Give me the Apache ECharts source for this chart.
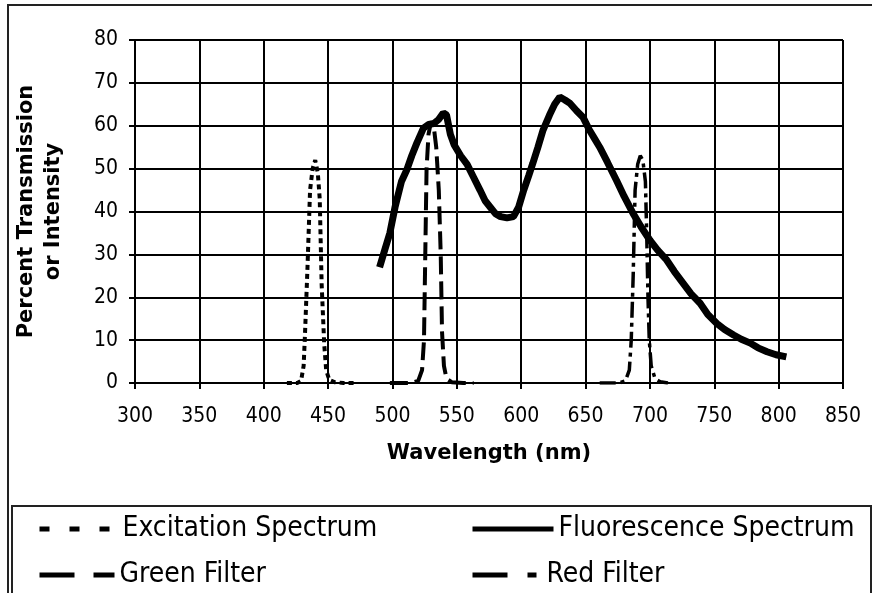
<!DOCTYPE html>
<html>
<head>
<meta charset="utf-8">
<script src="https://cdn.jsdelivr.net/npm/echarts@6/dist/echarts.min.js"></script>
<style>
  * { margin: 0; padding: 0; }
  body { background: #fff; }
  #chart { width: 872px; height: 593px; }
</style>
</head>
<body>
<!-- chart container -->
<div id="chart"></div>
<script>
  // x: wavelength (nm), y: percent transmission or intensity
  const excitation = [
    [418, 0], [426, 0], [429, 0.5], [431, 4], [432, 11], [434, 27], [436, 45], [438, 50],
    [440, 52], [442, 49], [443.5, 43], [445, 23], [447, 9], [448.5, 3], [451, 0.7],
    [455, 0.2], [462, 0], [472, 0]
  ];
  const fluorescence = [
    [490, 27], [494, 31], [498, 35], [502, 41], [507, 47], [511, 49.6], [515, 53],
    [519, 56], [524, 59.4], [528, 60.3], [532, 60.5], [536, 61.5], [539.5, 63],
    [542, 62.5], [545, 58], [548, 55.5], [553, 53], [558, 51], [563, 48], [568, 45],
    [572, 42.5], [576, 41], [580, 39.5], [584, 38.8], [589, 38.5], [594, 38.8],
    [598, 41], [602, 45], [606, 48.5], [609, 51.2], [613, 55], [617, 59], [622, 62.5],
    [626, 65], [630, 66.7], [634, 66], [638, 65.2], [643, 63.5], [648, 62], [653, 59],
    [657, 57], [661, 55], [667, 51.5], [674, 47.3], [680, 43.5], [687, 39.5], [693, 36.5],
    [700, 33.3], [706, 31], [713, 28.7], [719, 26], [726, 23.2], [732, 20.8], [739, 18.6],
    [745, 16], [752, 13.9], [758, 12.5], [765, 11.2], [771, 10.2], [778, 9.3], [784, 8.2],
    [791, 7.3], [798, 6.6], [806, 6.1]
  ];
  const greenFilter = [
    [498, 0], [515, 0], [520, 0.5], [523, 3], [524.5, 10], [525.5, 30], [526.5, 50],
    [528, 58], [530, 61], [532, 60], [534, 55], [536, 45], [537.5, 30], [538.5, 12],
    [540, 4], [542, 1], [546, 0.2], [555, 0], [563, 0]
  ];
  const redFilter = [
    [661, 0], [676, 0], [681, 0.5], [684, 3], [685.5, 10], [687, 25], [688.5, 45],
    [690.5, 51], [692.5, 53], [694.5, 52], [696.5, 47], [697.5, 35], [698.5, 20],
    [699.5, 10], [701, 4], [704, 1], [708, 0.3], [714, 0]
  ];
  const seriesNames = ['Excitation Spectrum', 'Fluorescence Spectrum', 'Green Filter', 'Red Filter'];

  const font = 'DejaVu Sans, Verdana, sans-serif';
  const condensed = 'DejaVu Sans Condensed, DejaVu Sans, sans-serif';
  const chart = echarts.init(document.getElementById('chart'));

  function makeLine(name, data, width, dash) {
    return {
      name: name,
      type: 'line',
      data: data,
      symbol: 'none',
      showSymbol: false,
      lineStyle: { color: '#000', width: width, type: dash, cap: 'butt' },
      itemStyle: { color: '#000' }
    };
  }

  // one legend per entry, so the 2x2 grid of the original is kept
  function makeLegend(name, left, top, w, dash) {
    return {
      data: [name],
      left: left, top: top, padding: 0,
      itemWidth: w, itemHeight: 14,
      itemStyle: { opacity: 0 },
      lineStyle: { color: '#000', width: 5, type: dash, cap: 'butt' },
      textStyle: { fontFamily: condensed, fontSize: 28, color: '#000', lineHeight: 32 }
    };
  }

  chart.setOption({
    animation: false,
    backgroundColor: '#fff',
    textStyle: { fontFamily: font },
    grid: { left: 135, right: 29, top: 40, bottom: 210 },
    graphic: [
      { type: 'rect', z: -10, shape: { x: 8, y: 5, width: 900, height: 700 },
        style: { fill: 'none', stroke: '#222', lineWidth: 2 } },
      { type: 'rect', z: -10, shape: { x: 12, y: 506, width: 859, height: 200 },
        style: { fill: '#fff', stroke: '#222', lineWidth: 2 } }
    ],
    legend: [
      makeLegend(seriesNames[0], 37, 513, 78, [10, 20]),
      makeLegend(seriesNames[2], 37, 559, 75, [35, 19]),
      makeLegend(seriesNames[1], 470, 513, 81, 'solid'),
      makeLegend(seriesNames[3], 470, 559, 69, [35, 20, 9, 99])
    ],
    xAxis: {
      type: 'value', min: 300, max: 850, interval: 50,
      name: 'Wavelength (nm)', nameLocation: 'middle', nameGap: 60,
      nameTextStyle: { fontFamily: font, fontSize: 21, fontWeight: 'bold', color: '#000' },
      axisLine: { lineStyle: { color: '#000', width: 2 } },
      axisTick: { show: true, length: 6, lineStyle: { color: '#000', width: 2 } },
      axisLabel: { fontFamily: condensed, fontSize: 21, color: '#000', margin: 23 },
      splitLine: { show: true, lineStyle: { color: '#000', width: 2 } }
    },
    yAxis: {
      type: 'value', min: 0, max: 80, interval: 10,
      name: 'Percent Transmission\nor Intensity', nameLocation: 'middle', nameGap: 68,
      nameTextStyle: { fontFamily: font, fontSize: 21, fontWeight: 'bold', color: '#000', lineHeight: 27 },
      axisLine: { show: true, lineStyle: { color: '#000', width: 2 } },
      axisTick: { show: true, length: 6, lineStyle: { color: '#000', width: 2 } },
      axisLabel: { fontFamily: condensed, fontSize: 21, color: '#000', margin: 17 },
      splitLine: { show: true, lineStyle: { color: '#000', width: 2 } }
    },
    series: [
      makeLine(seriesNames[0], excitation, 4, [5, 4]),
      makeLine(seriesNames[1], fluorescence, 7, 'solid'),
      makeLine(seriesNames[2], greenFilter, 4, [18, 7]),
      makeLine(seriesNames[3], redFilter, 3.5, [16, 5, 4, 5])
    ]
  });
</script>
</body>
</html>
